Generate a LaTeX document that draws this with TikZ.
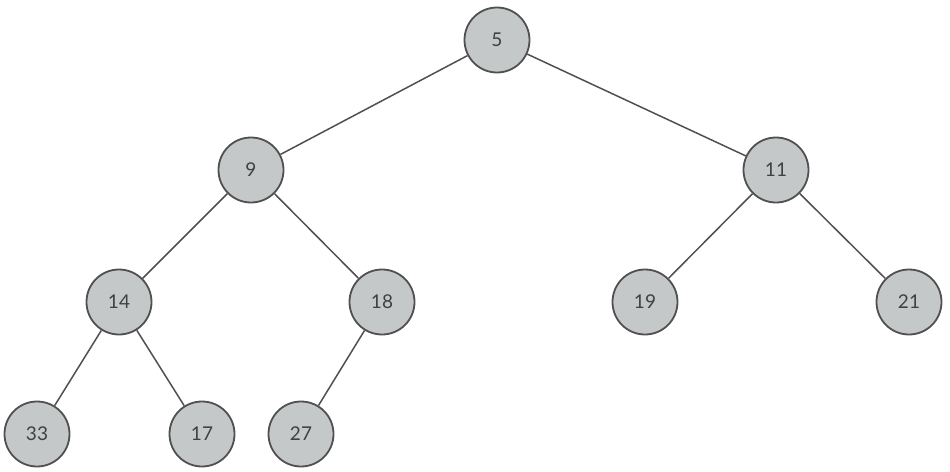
\documentclass[tikz,border=0pt]{standalone}
\usepackage{fontspec}
\setmainfont{Lato}
\definecolor{nodefill}{HTML}{C5C8C9}
\definecolor{nodeline}{HTML}{505050}
\definecolor{txt}{HTML}{404040}
\begin{document}
\begin{tikzpicture}[x=1pt,y=-1pt,
  tn/.style={circle,draw=nodeline,line width=1.8pt,fill=nodefill,minimum size=65pt,inner sep=0pt,text=txt,font=\fontsize{19}{21}\selectfont},
  edge/.style={draw=nodeline,line width=1.5pt}]
\useasboundingbox (0,0) rectangle (950,471);
\node[tn] (n5) at (497,40) {5};
\node[tn] (n9) at (251,170) {9};
\node[tn] (n11) at (776,170) {11};
\node[tn] (n14) at (119,302) {14};
\node[tn] (n18) at (382,302) {18};
\node[tn] (n19) at (645,302) {19};
\node[tn] (n21) at (909,302) {21};
\node[tn] (n33) at (37,434) {33};
\node[tn] (n17) at (202,434) {17};
\node[tn] (n27) at (301,434) {27};
\draw[edge] (n5) -- (n9);
\draw[edge] (n5) -- (n11);
\draw[edge] (n9) -- (n14);
\draw[edge] (n9) -- (n18);
\draw[edge] (n11) -- (n19);
\draw[edge] (n11) -- (n21);
\draw[edge] (n14) -- (n33);
\draw[edge] (n14) -- (n17);
\draw[edge] (n18) -- (n27);
\end{tikzpicture}
\end{document}
